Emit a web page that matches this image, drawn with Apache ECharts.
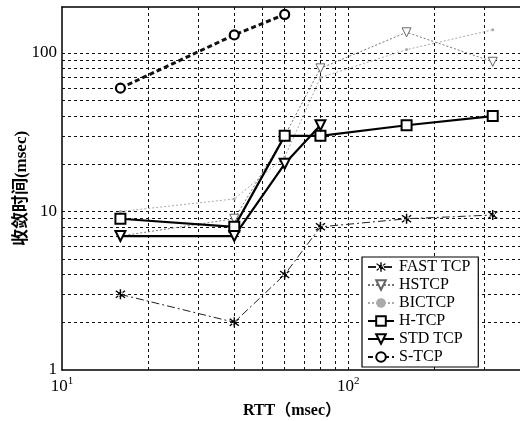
<!DOCTYPE html>
<html><head><meta charset="utf-8">
<script src="https://cdn.jsdelivr.net/npm/echarts@6/dist/echarts.min.js"></script>
<style>html,body{margin:0;padding:0;background:#fff}#c{width:520px;height:421px}</style>
</head><body><div id="c"></div>
<script>
// RTT values (msec)
const rtt = [16, 40, 60, 80, 160, 320];
// convergence time (msec) per protocol
const fastTcp = [3, 2, 4, 8, 9, 9.5];
const hsTcp   = [7, 9, 30, 80, 135, 88];
const bicTcp  = [10, 12, 22, 70, 105, 140];
const hTcp    = [9, 8, 30, 30, 35, 40];
const stdTcp  = [7, 7, 20, 35];
const sTcp    = [60, 130, 175];
// grid line positions
const xGrid = [20, 30, 40, 50, 60, 70, 80, 90, 100, 200, 300];
const yGrid = [2, 3, 4, 5, 6, 7, 8, 9, 10, 20, 30, 40, 50, 60, 70, 80, 90, 100];
const xTickLabels = {10: '10{s|1}', 100: '10{s|2}'};
const yTickLabels = {1: '1', 10: '10', 100: '100'};
const names = ['FAST TCP', 'HSTCP', 'BICTCP', 'H-TCP', 'STD TCP', 'S-TCP'];

function pairs(ys) { return ys.map((y, i) => [rtt[i], y]); }
const font = '"Liberation Serif", "Noto Sans CJK SC", serif';
const star = 'path://M-0.8,-6L0.8,-6L0.8,6L-0.8,6Z M-5.6,-3.6L-4.6,-4.8L5.6,3.6L4.6,4.8Z M5.6,-3.6L4.6,-4.8L-5.6,3.6L-4.6,4.8Z M-2.5,-2.5L2.5,-2.5L2.5,2.5L-2.5,2.5Z';

const chart = echarts.init(document.getElementById('c'));
chart.setOption({
  animation: false,
  backgroundColor: '#fff',
  textStyle: {fontFamily: font, color: '#000'},
  grid: {left: 62, right: -2, top: 7, bottom: 51, show: false, containLabel: false, outerBoundsMode: 'none'},
  xAxis: [{
    type: 'log', logBase: 10, min: 10, max: 405,
    name: 'RTT（msec）', nameLocation: 'middle', nameGap: 33,
    nameTextStyle: {fontFamily: font, fontSize: 16, color: '#000', fontWeight: 'bold'},
    axisLine: {lineStyle: {color: '#000', width: 1.5}},
    axisTick: {show: false},
    splitLine: {show: false},
    axisLabel: {
      margin: 6, color: '#000', fontFamily: font, fontSize: 17,
      formatter: v => xTickLabels[Math.round(v)] || '',
      rich: {s: {fontSize: 11, fontFamily: font, verticalAlign: 'top', padding: [0, 0, 10, 0]}}
    }
  }, {
    type: 'log', logBase: 10, min: 10, max: 405, position: 'top',
    axisLine: {show: true, lineStyle: {color: '#000', width: 1.5}},
    axisTick: {show: false}, axisLabel: {show: false}, splitLine: {show: false}
  }],
  yAxis: {
    type: 'log', logBase: 10, min: 1, max: 195,
    name: '收敛时间(msec)', nameLocation: 'middle', nameGap: 32, nameMoveOverlap: false,
    nameTextStyle: {fontFamily: font, fontSize: 17, color: '#000', fontWeight: 'bold'},
    axisLine: {lineStyle: {color: '#000', width: 1.5}},
    axisTick: {show: false},
    splitLine: {show: false},
    axisLabel: {
      margin: 5, color: '#000', fontFamily: font, fontSize: 17,
      formatter: v => yTickLabels[Math.round(v)] || ''
    }
  },
  legend: {
    data: names, orient: 'vertical', left: 362, top: 257, z: 20,
    itemWidth: 26, itemHeight: 12, itemGap: 2, padding: [2, 8, 2, 5],
    backgroundColor: '#fff', borderColor: '#000', borderWidth: 1.2, borderRadius: 0,
    textStyle: {fontFamily: font, fontSize: 16, lineHeight: 15, color: '#000', padding: [0, 0, 0, 0]}
  },
  series: [
    {
      name: 'grid', type: 'line', data: [[10, 1]], symbol: 'none', silent: true,
      lineStyle: {opacity: 0}, z: 1,
      markLine: {
        silent: true, symbol: ['none', 'none'], label: {show: false}, z: 1,
        lineStyle: {color: '#111', width: 1, type: [3, 3]},
        emphasis: {disabled: true},
        data: xGrid.map(v => ({xAxis: v})).concat(yGrid.map(v => ({yAxis: v})))
      }
    },
    {
      name: 'FAST TCP', type: 'line', data: pairs(fastTcp), z: 5,
      symbol: star, symbolSize: 10,
      lineStyle: {color: '#222', width: 1, type: [8, 3, 2, 3]},
      itemStyle: {color: '#000'}
    },
    {
      name: 'HSTCP', type: 'line', data: pairs(hsTcp), z: 4,
      symbol: 'triangle', symbolRotate: 180, symbolSize: 9,
      lineStyle: {color: '#777', width: 1, type: [2, 2]},
      itemStyle: {color: '#fff', borderColor: '#666', borderWidth: 1}
    },
    {
      name: 'BICTCP', type: 'line', data: pairs(bicTcp), z: 3,
      symbol: 'circle', symbolSize: 3,
      lineStyle: {color: '#aaa', width: 1, type: [2, 2]},
      itemStyle: {color: '#aaa'}
    },
    {
      name: 'H-TCP', type: 'line', data: pairs(hTcp), z: 6,
      symbol: 'rect', symbolSize: 10,
      lineStyle: {color: '#000', width: 2.2},
      itemStyle: {color: '#fff', borderColor: '#000', borderWidth: 2}
    },
    {
      name: 'STD TCP', type: 'line', data: pairs(stdTcp), z: 6,
      symbol: 'triangle', symbolRotate: 180, symbolSize: 10,
      lineStyle: {color: '#000', width: 2.2},
      itemStyle: {color: '#fff', borderColor: '#000', borderWidth: 2}
    },
    {
      name: 'S-TCP', type: 'line', data: pairs(sTcp), z: 6,
      symbol: 'circle', symbolSize: 9,
      lineStyle: {color: '#111', width: 3, type: [5, 3]},
      itemStyle: {color: '#fff', borderColor: '#000', borderWidth: 2.2}
    }
  ]
});
</script></body></html>
